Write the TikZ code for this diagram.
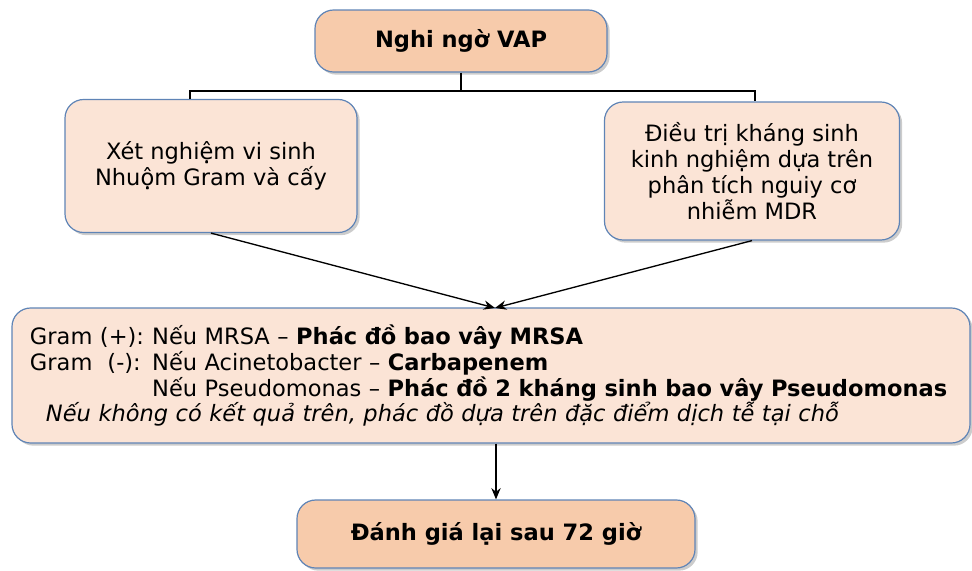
\documentclass[tikz,border=0pt]{standalone}
\usepackage{fontspec}
\setmainfont{DejaVu Sans}
\usetikzlibrary{shadows, arrows.meta}

\definecolor{peach}{HTML}{F7CBAB}
\definecolor{lightpeach}{HTML}{FBE4D6}
\definecolor{boxline}{HTML}{5F84B6}

\tikzset{
	box/.style = {draw=boxline, line width=0.9pt, rounded corners=14pt,
		drop shadow={shadow xshift=2pt, shadow yshift=-2pt, opacity=0.4},
		font=\fontsize{16.9}{19.5}\selectfont, align=center, inner sep=0pt},
	darkbox/.style = {box, fill=peach},
	lightbox/.style = {box, fill=lightpeach},
	link/.style = {line width=1pt},
}

\begin{document}
\begin{tikzpicture}[x=0.75pt, y=-0.75pt, >={Stealth[length=8.5pt, width=7pt]}]
	\useasboundingbox (0,0) rectangle (972,571);

	\node[darkbox, minimum width=292*0.75pt, minimum height=62*0.75pt] (vap) at (461,41)
		{\bfseries Nghi ngờ VAP};
	\node[lightbox, minimum width=292*0.75pt, minimum height=133*0.75pt] (xn) at (211,166)
		{Xét nghiệm vi sinh\\Nhuộm Gram và cấy};
	\node[lightbox, minimum width=295*0.75pt, minimum height=138*0.75pt] (dt) at (752,171)
		{Điều trị kháng sinh\\kinh nghiệm dựa trên\\phân tích nguiy cơ\\nhiễm MDR};
	\node[lightbox, align=left, minimum height=135*0.75pt, text width=922*0.75pt,
		inner xsep=18*0.75pt] (goi) at (491,375.5)
		{\makebox[86pt][l]{Gram (+):} Nếu MRSA -- \textbf{Phác đồ bao vây MRSA}\\
		\makebox[86pt][l]{Gram\ \ (-):} Nếu Acinetobacter -- \textbf{Carbapenem}\\
		\makebox[86pt][l]{} Nếu Pseudomonas -- \textbf{Phác đồ 2 kháng sinh bao vây Pseudomonas}\\
		\hspace*{12pt}\itshape Nếu không có kết quả trên, phác đồ dựa trên đặc điểm dịch tễ tại chỗ};
	\node[darkbox, minimum width=398*0.75pt, minimum height=68*0.75pt] (dg) at (496,534)
		{\bfseries Đánh giá lại sau 72 giờ};

	% nhanh tren
	\coordinate (bus) at (461,91);
	\coordinate (bl) at (190,91);
	\coordinate (br) at (755,91);
	\coordinate (hub) at (495,308);
	\draw[link] (vap.south) -- (bus);
	\draw[link] (xn.north -| bl) -- (bl) -- (br) -- (dt.north -| br);

	\draw[link, ->] (xn.south) -- (hub);
	\draw[link, ->] (dt.south) -- (hub);
	\draw[link, ->] (goi.south -| dg.north) -- (dg.north);
\end{tikzpicture}
\end{document}
